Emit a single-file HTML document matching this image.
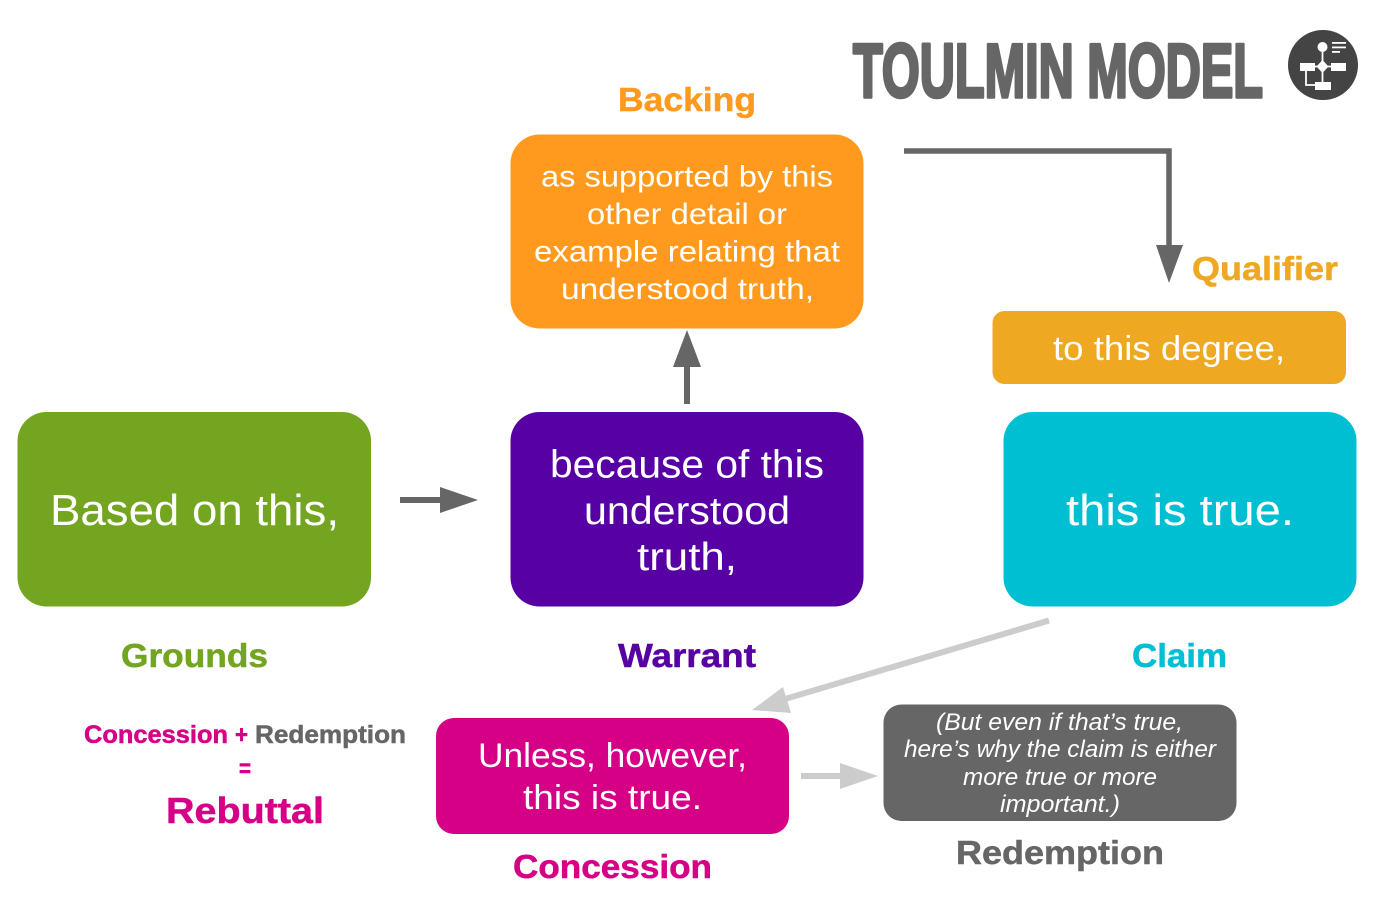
<!DOCTYPE html>
<html lang="en"><head><meta charset="utf-8"><title>Toulmin Model</title>
<style>
html,body{margin:0;padding:0;background:#fff;width:1378px;height:900px;overflow:hidden}
svg{display:block}
text{font-family:"Liberation Sans",sans-serif}
.b{font-weight:bold;stroke-width:.5px}
.w{fill:#fff}
</style></head><body>
<svg width="1378" height="900" viewBox="0 0 1378 900" xmlns="http://www.w3.org/2000/svg">
<rect width="1378" height="900" fill="#fff"/>

<!-- title -->
<text x="853" y="97" font-weight="bold" font-size="76" fill="#666" stroke="#666" stroke-width="3.5" stroke-linejoin="round" textLength="410" lengthAdjust="spacingAndGlyphs">TOULMIN MODEL</text>

<!-- icon -->
<circle cx="1323" cy="65" r="35" fill="#444"/>
<g fill="#fff" stroke="none">
<circle cx="1322.500" cy="47" r="5"/>
<rect x="1332" y="42" width="14" height="1.800"/><rect x="1332" y="46.500" width="14" height="1.800"/><rect x="1332" y="51" width="8" height="1.800"/>
<rect x="1300" y="63" width="15" height="8"/><rect x="1331" y="63" width="15" height="8"/><rect x="1315" y="82" width="16" height="8"/>
<polygon points="1322.500,60 1328.500,66.500 1322.500,73 1316.500,66.500"/>
</g>
<path d="M1322.500 51V82M1315 66.500H1331M1306 71V85H1315" fill="none" stroke="#fff" stroke-width="1.800"/>

<!-- boxes -->
<rect x="510.500" y="134.500" width="353" height="194" rx="29" fill="#ff9a1f"/>
<rect x="17.500" y="412" width="353.500" height="194.500" rx="29" fill="#73a520"/>
<rect x="510.500" y="412" width="353" height="194.500" rx="29" fill="#5700a3"/>
<rect x="1003.500" y="412" width="353" height="194.500" rx="29" fill="#00bfd3"/>
<rect x="992.500" y="311" width="353.500" height="73" rx="12" fill="#eea822"/>
<rect x="436" y="718" width="353" height="116" rx="18" fill="#d60087"/>
<rect x="883.500" y="704.500" width="353" height="116.500" rx="18" fill="#666"/>

<!-- arrows -->
<path d="M904 151H1169V246" fill="none" stroke="#666" stroke-width="5.500"/>
<polygon points="1156,245 1183,245 1169,283" fill="#666"/>
<rect x="684" y="365" width="6" height="39" fill="#666"/>
<polygon points="673,367 701,367 687,330" fill="#666"/>
<rect x="400" y="497" width="41" height="6" fill="#666"/>
<polygon points="440,487 478,500 440,513" fill="#666"/>
<rect x="801" y="773" width="40" height="6" fill="#ccc"/>
<polygon points="840,763 878,776 840,789" fill="#ccc"/>
<line x1="1049" y1="620.500" x2="785" y2="699" stroke="#ccc" stroke-width="6"/>
<polygon points="752,710 783,687 791,713" fill="#ccc"/>

<!-- heading labels -->
<text x="618" y="111" class="b" stroke="#ff9a1f" font-size="33" fill="#ff9a1f" textLength="138" lengthAdjust="spacingAndGlyphs">Backing</text>
<text x="1192" y="280" class="b" stroke="#eea822" font-size="33" fill="#eea822" textLength="146" lengthAdjust="spacingAndGlyphs">Qualifier</text>
<text x="121" y="667" class="b" stroke="#73a520" font-size="33" fill="#73a520" textLength="147" lengthAdjust="spacingAndGlyphs">Grounds</text>
<text x="618" y="667" class="b" stroke="#5700a3" font-size="33" fill="#5700a3" textLength="138" lengthAdjust="spacingAndGlyphs">Warrant</text>
<text x="1132" y="667" class="b" stroke="#00bfd3" font-size="33" fill="#00bfd3" textLength="95" lengthAdjust="spacingAndGlyphs">Claim</text>
<text x="513" y="878" class="b" stroke="#d60087" font-size="33" fill="#d60087" textLength="199" lengthAdjust="spacingAndGlyphs">Concession</text>
<text x="956" y="864" class="b" stroke="#666" font-size="33" fill="#666" textLength="208" lengthAdjust="spacingAndGlyphs">Redemption</text>

<!-- backing text -->
<text x="541" y="186.500" class="w" font-size="30" textLength="292" lengthAdjust="spacingAndGlyphs">as supported by this</text>
<text x="587" y="224" class="w" font-size="30" textLength="200" lengthAdjust="spacingAndGlyphs">other detail or</text>
<text x="534" y="261.500" class="w" font-size="30" textLength="306" lengthAdjust="spacingAndGlyphs">example relating that</text>
<text x="561" y="299" class="w" font-size="30" textLength="253" lengthAdjust="spacingAndGlyphs">understood truth,</text>

<!-- qualifier text -->
<text x="1053" y="360" class="w" font-size="34" textLength="232" lengthAdjust="spacingAndGlyphs">to this degree,</text>

<!-- main row -->
<text x="50" y="525" class="w" font-size="44" textLength="289" lengthAdjust="spacingAndGlyphs">Based on this,</text>
<text x="550" y="477.500" class="w" font-size="39" textLength="274" lengthAdjust="spacingAndGlyphs">because of this</text>
<text x="584" y="524" class="w" font-size="39" textLength="206" lengthAdjust="spacingAndGlyphs">understood</text>
<text x="637" y="570" class="w" font-size="39" textLength="100" lengthAdjust="spacingAndGlyphs">truth,</text>
<text x="1066" y="525" class="w" font-size="44" textLength="228" lengthAdjust="spacingAndGlyphs">this is true.</text>

<!-- concession text -->
<text x="478" y="767" class="w" font-size="34" textLength="269" lengthAdjust="spacingAndGlyphs">Unless, however,</text>
<text x="523" y="809" class="w" font-size="34" textLength="179" lengthAdjust="spacingAndGlyphs">this is true.</text>

<!-- redemption text -->
<g font-style="italic">
<text x="936" y="730" class="w" font-size="24" textLength="247" lengthAdjust="spacingAndGlyphs">(But even if that’s true,</text>
<text x="904" y="757" class="w" font-size="24" textLength="312" lengthAdjust="spacingAndGlyphs">here’s why the claim is either</text>
<text x="963" y="785" class="w" font-size="24" textLength="194" lengthAdjust="spacingAndGlyphs">more true or more</text>
<text x="1000" y="812" class="w" font-size="24" textLength="120" lengthAdjust="spacingAndGlyphs">important.)</text>
</g>

<!-- rebuttal -->
<text x="84" y="743" class="b" stroke="#d60087" font-size="25" fill="#d60087" textLength="144" lengthAdjust="spacingAndGlyphs">Concession</text>
<text x="235" y="743" class="b" stroke="#d60087" font-size="25" fill="#d60087" textLength="13" lengthAdjust="spacingAndGlyphs">+</text>
<text x="255" y="743" class="b" stroke="#666" font-size="25" fill="#666" textLength="151" lengthAdjust="spacingAndGlyphs">Redemption</text>
<text x="239" y="777" class="b" stroke="#d60087" font-size="25" fill="#d60087" textLength="12" lengthAdjust="spacingAndGlyphs">=</text>
<text x="166" y="823" class="b" stroke="#d60087" font-size="36" fill="#d60087" textLength="158" lengthAdjust="spacingAndGlyphs">Rebuttal</text>
</svg>
</body></html>
